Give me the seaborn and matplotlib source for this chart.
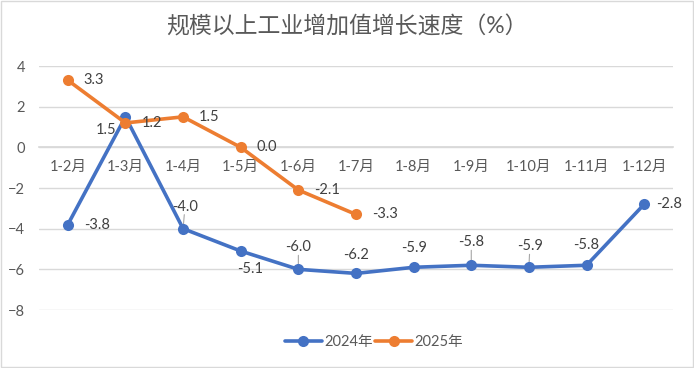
import matplotlib
matplotlib.use("Agg")
import matplotlib.pyplot as plt
import seaborn as sns
import pandas as pd
import numpy as np
from matplotlib.patches import Rectangle

# data
months = ['1-2月', '1-3月', '1-4月', '1-5月', '1-6月', '1-7月',
          '1-8月', '1-9月', '1-10月', '1-11月', '1-12月']
values_2024 = [-3.8, 1.5, -4.0, -5.1, -6.0, -6.2, -5.9, -5.8, -5.9, -5.8, -2.8]
values_2025 = [3.3, 1.2, 1.5, 0.0, -2.1, -3.3]
series_names = ['2024年', '2025年']
title = '规模以上工业增加值增长速度（%）'

# label placement per point (style only): (dx px, dy px, ha, leader line)
label_pos_2024 = [(16, 0, 'left', False), (-9, -13, 'right', False),
                  (2, 22, 'center', True), (9, -18, 'center', False),
                  (0, 22, 'center', True), (0, 18, 'center', False),
                  (0, 19, 'center', False), (0, 23, 'center', True),
                  (1, 21, 'center', True), (0, 20, 'center', False),
                  (12, 0, 'left', False)]
label_pos_2025 = [(16, 0, 'left', False)] * 6

sns.set_theme(style='white')
plt.rcParams['font.family'] = ['Lato', 'Noto Sans CJK SC', 'DejaVu Sans']

blue = '#4472C4'
orange = '#ED7D31'
text_c = '#595959'
grid_c = '#D9D9D9'

rows = []
for i, v in enumerate(values_2024):
    rows.append({'pos': i, 'value': v, 'series': series_names[0]})
for i, v in enumerate(values_2025):
    rows.append({'pos': i, 'value': v, 'series': series_names[1]})
df = pd.DataFrame(rows)

fig = plt.figure(figsize=(6.94, 3.68), dpi=100)
ax = fig.add_axes([39 / 694, 58 / 368, 634 / 694, 244 / 368])

sns.lineplot(data=df, x='pos', y='value', hue='series',
             palette=[blue, orange], marker='o', markersize=8,
             markeredgewidth=0, linewidth=2.6, ax=ax, zorder=3)

ax.set_xlim(-0.5, len(months) - 0.5)
ax.set_ylim(-8, 4)
ax.set_yticks(np.arange(-8, 5, 2))
ax.yaxis.grid(True, color=grid_c, linewidth=1)
ax.set_axisbelow(True)

# category axis crossing at zero, like the original
for s in ['top', 'right', 'left']:
    ax.spines[s].set_visible(False)
ax.spines['bottom'].set_position(('data', 0))
ax.spines['bottom'].set_color(grid_c)
ax.set_xticks(np.arange(len(months)))
ax.set_xticklabels(months)
ax.set_xticks(np.arange(len(months) + 1) - 0.5, minor=True)
ax.tick_params(axis='x', which='major', length=0, pad=9,
               labelsize=10.5, labelcolor=text_c)
ax.tick_params(axis='x', which='minor', length=6, color=grid_c,
               direction='out', width=1)
ax.tick_params(axis='y', length=0, pad=10, labelsize=10.5, labelcolor=text_c)
ax.set_xlabel('')
ax.set_ylabel('')

# data labels
for vals, poss in [(values_2024, label_pos_2024), (values_2025, label_pos_2025)]:
    for i, (v, (dx, dy, ha, leader)) in enumerate(zip(vals, poss)):
        ax.annotate(f'{v:.1f}', (i, v), xytext=(dx, dy),
                    textcoords='offset pixels', ha=ha, va='center',
                    fontsize=10.5, color='#404040', zorder=4)
        if leader:
            ax.annotate('', (i, v), xytext=(dx * 0.6, dy - 8),
                        textcoords='offset pixels',
                        arrowprops=dict(arrowstyle='-', color='#A6A6A6',
                                        lw=0.8, shrinkA=0, shrinkB=3),
                        zorder=2)

ax.legend_.remove()
handles, labels = ax.get_legend_handles_labels()
fig.legend(handles, labels, loc='center', bbox_to_anchor=(374 / 694, 1 - 342 / 368),
           ncol=2, frameon=False, fontsize=10.5, labelcolor=text_c,
           handlelength=2.5, handletextpad=0.15, columnspacing=0.2)

fig.suptitle(title, y=1 - 27 / 368, va='center', fontsize=16.5, color=text_c)

# chart-area border
fig.patches.append(Rectangle((0.001, 0.002), 0.997, 0.995, transform=fig.transFigure,
                             fill=False, edgecolor=grid_c, linewidth=1))

fig.savefig('out.png', dpi=100)
